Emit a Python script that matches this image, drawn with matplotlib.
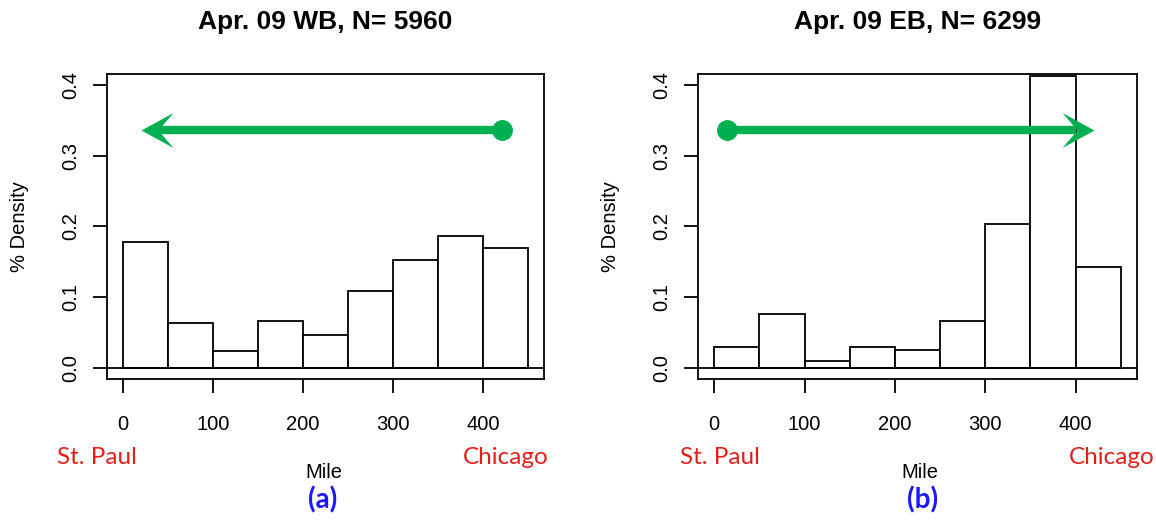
import numpy as np
import matplotlib
matplotlib.use("Agg")
import matplotlib.pyplot as plt
from matplotlib.path import Path

# Data: density per 50-mile bin
bin_edges = [0, 50, 100, 150, 200, 250, 300, 350, 400, 450]
wb_density = [0.178, 0.064, 0.023, 0.066, 0.047, 0.108, 0.152, 0.186, 0.170]
eb_density = [0.030, 0.076, 0.009, 0.030, 0.025, 0.066, 0.204, 0.413, 0.142]
titles = ["Apr. 09 WB, N= 5960", "Apr. 09 EB, N= 6299"]
panel_tags = ["(a)", "(b)"]
x_ticks = [0, 100, 200, 300, 400]
y_ticks = [0.0, 0.1, 0.2, 0.3, 0.4]

# travel direction arrows (start mile, tip mile, height)
arrows = [(421, 20, 0.336), (14, 420, 0.336)]

W, H = 1156, 520
GREEN = "#00b050"
RED = "#e0201b"
BLUE = "#1a1aff"
R_FONT = "Liberation Sans"
OFFICE_FONT = "Lato"

plt.rcParams["font.family"] = [R_FONT, "DejaVu Sans"]

fig = plt.figure(figsize=(W / 100, H / 100), dpi=100)


def fx(px):
    return px / W


def fy(py):
    return 1 - py / H


# axes boxes in pixels: (left, right, top, bottom)
boxes = [(107, 544, 74, 379), (698, 1137, 74, 379)]
datasets = [wb_density, eb_density]
# label positions per panel (pixels)
ylabel_x = [20, 611]
mile_x = [324, 920]
tag_x = [323, 923]
city_x = [(97, 506), (720, 1112)]


def head_marker(direction):
    # notched arrowhead, tip at the origin
    s = 1 if direction < 0 else -1
    verts = [(0, 0), (s * 32, 17.5), (s * 17, 0), (s * 32, -17.5), (0, 0)]
    codes = [Path.MOVETO, Path.LINETO, Path.LINETO, Path.LINETO, Path.CLOSEPOLY]
    return Path(verts, codes)


for i, (box, dens) in enumerate(zip(boxes, datasets)):
    l, r, t, b = box
    ax = fig.add_axes([fx(l), fy(b), fx(r - l), (b - t) / H])
    ax.bar(bin_edges[:-1], dens, width=np.diff(bin_edges), align="edge",
           facecolor="white", edgecolor="black", linewidth=1.3, zorder=2)
    ax.axhline(0, color="black", linewidth=1.3, zorder=3)
    ax.set_xlim(-18, 468)
    ax.set_ylim(-0.016, 0.416)
    for sp in ax.spines.values():
        sp.set_linewidth(1.3)
    ax.set_xticks(x_ticks)
    ax.set_xticklabels([str(v) for v in x_ticks])
    ax.set_yticks(y_ticks)
    ax.set_yticklabels([f"{v:.1f}" for v in y_ticks], rotation=90, va="center")
    ax.tick_params(axis="x", length=10, width=1.3, pad=16, labelsize=14.5)
    ax.tick_params(axis="y", length=10, width=1.3, pad=9, labelsize=14.5)

    # direction arrow
    x0, x1, yv = arrows[i]
    d = np.sign(x1 - x0)
    ax.plot([x0, x1 - d * 20], [yv, yv], color=GREEN, linewidth=6,
            solid_capstyle="butt", zorder=5)
    ax.plot([x0], [yv], marker="o", markersize=14, color=GREEN, zorder=6)
    ax.plot([x1], [yv], marker=head_marker(d), markersize=46,
            color=GREEN, markeredgewidth=0, zorder=6)

    cx = (l + r) / 2
    fig.text(fx(cx), fy(22), titles[i], ha="center", va="center",
             fontsize=19, fontweight="bold")
    fig.text(fx(ylabel_x[i]), fy((t + b) / 2), "% Density", rotation=90,
             ha="center", va="center", fontsize=14.5)
    fig.text(fx(mile_x[i]), fy(472), "Mile", ha="center", va="center",
             fontsize=14.5)
    fig.text(fx(tag_x[i]), fy(500), panel_tags[i], ha="center", va="center",
             fontsize=20, fontweight="bold", color=BLUE, family=OFFICE_FONT)
    for x, lab in zip(city_x[i], ["St. Paul", "Chicago"]):
        fig.text(fx(x), fy(458), lab, ha="center", va="center", fontsize=17.5,
                 color=RED, family=OFFICE_FONT)

fig.savefig("out.png", dpi=100)
